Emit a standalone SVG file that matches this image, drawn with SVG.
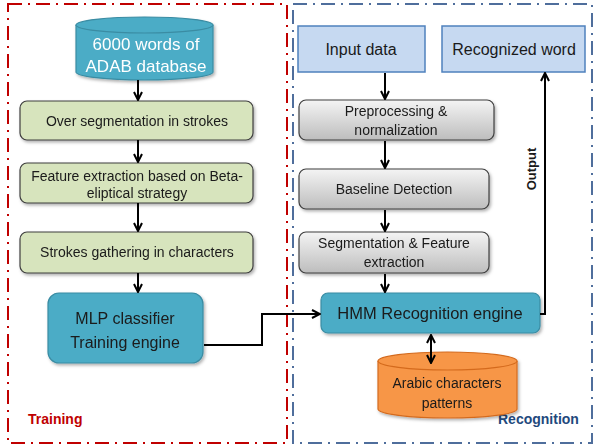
<svg xmlns="http://www.w3.org/2000/svg" width="595" height="448" viewBox="0 0 595 448">
<defs>
<style>
.t{font-family:"Liberation Sans",Arial,sans-serif;fill:#1a1a1a;text-anchor:middle}
.w{fill:#ffffff}
.grn{fill:#D7E4BD;stroke:#3f3f3f;stroke-width:1.2}
.gry{fill:url(#g);stroke:#3f3f3f;stroke-width:1.2}
.blu{fill:#C6D9F1;stroke:#4F81BD;stroke-width:1.5}
.teal{fill:#4BACC6;stroke:#3A8CA3;stroke-width:1.2}
.c{fill:none;stroke:#000;stroke-width:2}
</style>
<linearGradient id="g" x1="0" y1="0" x2="0" y2="1">
<stop offset="0" stop-color="#f4f4f4"/>
<stop offset="1" stop-color="#bdbdbd"/>
</linearGradient>
<filter id="sh" x="-10%" y="-10%" width="130%" height="140%">
<feDropShadow dx="1.5" dy="2" stdDeviation="1.5" flood-color="#000" flood-opacity="0.3"/>
</filter>
<marker id="a" viewBox="0 0 10 10" refX="9" refY="5" markerWidth="5" markerHeight="5" orient="auto-start-reverse">
<path d="M1,1 L9,5 L1,9" fill="none" stroke="#000" stroke-width="2"/>
</marker>
</defs>

<g id="training-frame">
<rect x="8" y="4" width="279" height="439" fill="none" stroke="#C00000" stroke-width="2" stroke-dasharray="14 6 2 6"/>
<text x="28" y="424" style="font-family:'Liberation Sans',Arial,sans-serif;font-weight:bold;font-size:14px;fill:#C00000">Training</text>
</g>
<g id="recognition-frame">
<rect x="293" y="4" width="299" height="439" fill="none" stroke="#4F6E9C" stroke-width="2" stroke-dasharray="14 6 2 6"/>
<text x="498" y="424" style="font-family:'Liberation Sans',Arial,sans-serif;font-weight:bold;font-size:14px;fill:#1F497D">Recognition</text>
</g>

<g id="adab-db" filter="url(#sh)">
<path class="teal" d="M76,25 L76,72 A68.5,8 0 0 0 213,72 L213,25"/>
<ellipse class="teal" cx="144.5" cy="25" rx="68.5" ry="8"/>
<text class="t w" x="146" y="50" font-size="17">6000 words of</text>
<text class="t w" x="146" y="72" font-size="17">ADAB database</text>
</g>

<g id="over-seg" filter="url(#sh)">
<rect class="grn" x="20" y="101" width="233" height="39" rx="7"/>
<text class="t" x="137" y="126" font-size="14">Over segmentation in strokes</text>
</g>

<g id="feature-beta" filter="url(#sh)">
<rect class="grn" x="20" y="163" width="233" height="40" rx="7"/>
<text class="t" x="137" y="181" font-size="14">Feature extraction based on Beta-</text>
<text class="t" x="137" y="198" font-size="14">eliptical strategy</text>
</g>

<g id="strokes-gather" filter="url(#sh)">
<rect class="grn" x="20" y="232" width="233" height="41" rx="7"/>
<text class="t" x="137" y="257" font-size="14">Strokes gathering in characters</text>
</g>

<g id="mlp" filter="url(#sh)">
<rect class="teal" x="48" y="293" width="155" height="70" rx="11"/>
<text class="t" x="125" y="324" font-size="16">MLP classifier</text>
<text class="t" x="125" y="348" font-size="16">Training engine</text>
</g>

<g id="input-data">
<rect class="blu" x="298" y="26" width="127" height="46"/>
<text class="t" x="361" y="55" font-size="16">Input data</text>
</g>

<g id="recognized-word">
<rect class="blu" x="442" y="26" width="143" height="46"/>
<text class="t" x="514" y="55" font-size="16">Recognized word</text>
</g>

<g id="preproc" filter="url(#sh)">
<rect class="gry" x="299" y="100" width="195" height="40" rx="7"/>
<text class="t" x="396" y="116" font-size="14">Preprocessing &amp;</text>
<text class="t" x="396" y="135" font-size="14">normalization</text>
</g>

<g id="baseline" filter="url(#sh)">
<rect class="gry" x="299" y="169" width="190" height="40" rx="7"/>
<text class="t" x="394" y="194" font-size="14">Baseline Detection</text>
</g>

<g id="segmentation" filter="url(#sh)">
<rect class="gry" x="299" y="232" width="190" height="41" rx="7"/>
<text class="t" x="394" y="248" font-size="14">Segmentation &amp; Feature</text>
<text class="t" x="394" y="267" font-size="14">extraction</text>
</g>

<g id="hmm" filter="url(#sh)">
<rect class="teal" x="321" y="293" width="219" height="40" rx="7"/>
<text class="t" x="430" y="319" font-size="16.5">HMM Recognition engine</text>
</g>

<g id="arabic-db" filter="url(#sh)">
<path d="M378,361 L378,409 A69.5,9 0 0 0 517,409 L517,361" fill="#F79646" stroke="#D46A1E" stroke-width="1.2"/>
<ellipse cx="447.5" cy="361" rx="69.5" ry="9" fill="#F79646" stroke="#D46A1E" stroke-width="1.2"/>
<text class="t" x="447" y="388" font-size="14">Arabic characters</text>
<text class="t" x="447" y="408" font-size="14">patterns</text>
</g>

<g id="connectors">
<line class="c" x1="138" y1="80" x2="138" y2="100" marker-end="url(#a)"/>
<line class="c" x1="138" y1="140" x2="138" y2="162" marker-end="url(#a)"/>
<line class="c" x1="138" y1="203" x2="138" y2="231" marker-end="url(#a)"/>
<line class="c" x1="138" y1="273" x2="138" y2="292" marker-end="url(#a)"/>
<polyline class="c" points="204,345 262,345 262,314 320,314" marker-end="url(#a)"/>
<line class="c" x1="385" y1="73" x2="385" y2="99" marker-end="url(#a)"/>
<line class="c" x1="385" y1="141" x2="385" y2="168" marker-end="url(#a)"/>
<line class="c" x1="385" y1="210" x2="385" y2="231" marker-end="url(#a)"/>
<line class="c" x1="385" y1="274" x2="385" y2="292" marker-end="url(#a)"/>
<line class="c" x1="431" y1="335" x2="431" y2="363" marker-start="url(#a)" marker-end="url(#a)"/>
<polyline class="c" points="540,314 545,314 545,73" marker-end="url(#a)"/>
<text transform="translate(536,169) rotate(-90)" style="font-family:'Liberation Sans',Arial,sans-serif;font-weight:bold;font-size:13px;fill:#1a1a1a;text-anchor:middle">Output</text>
</g>
</svg>
